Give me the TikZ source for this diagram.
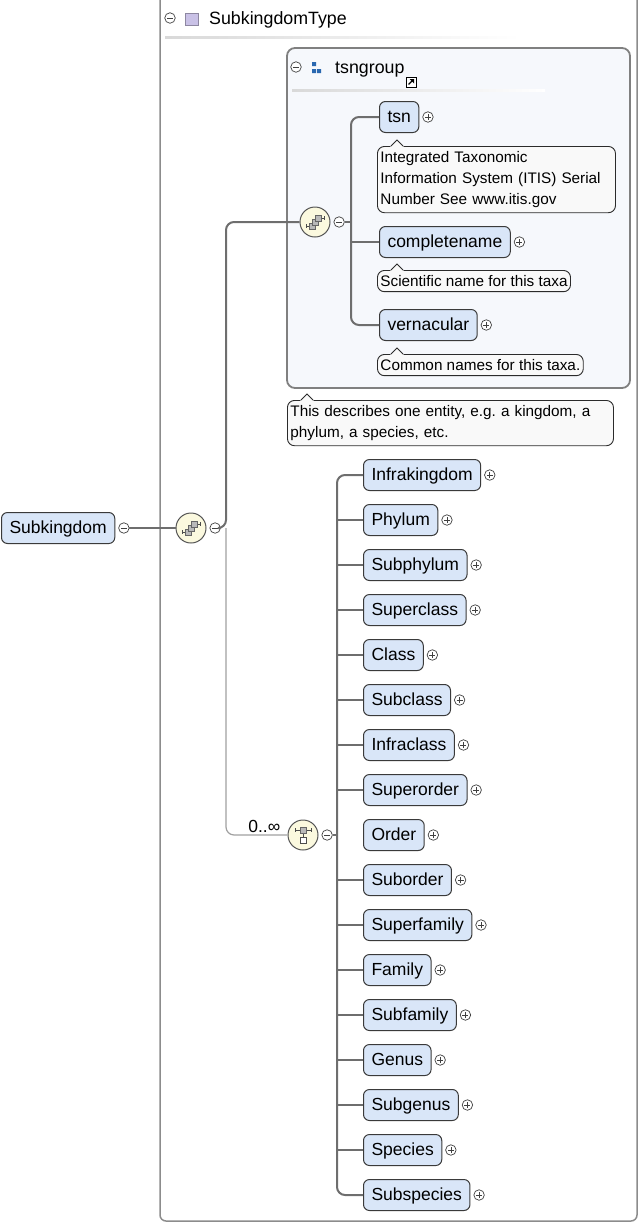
\documentclass[tikz,border=0pt]{standalone}
\usepackage{fontspec}
\setmainfont{Liberation Sans}
\frenchspacing

\definecolor{elfill}{HTML}{D9E6F8}
\definecolor{elline}{HTML}{3A3A3A}
\definecolor{compfill}{HTML}{FBF9DF}
\definecolor{compline}{HTML}{555555}
\definecolor{wirecol}{HTML}{6E6E6E}
\definecolor{optcol}{HTML}{A0A0A0}
\definecolor{typeline}{HTML}{8C8C8C}
\definecolor{grpfill}{HTML}{F6F8FC}
\definecolor{grpline}{HTML}{808080}
\definecolor{notebg}{HTML}{F9F9F9}
\definecolor{noteline}{HTML}{2B2B2B}
\definecolor{grpblue}{HTML}{2A68B0}
\definecolor{typeicon}{HTML}{C9C1E6}

\newcommand\elfont{\fontsize{17.5}{20}\selectfont}
\newcommand\notefont{\fontsize{15.3}{21}\selectfont}
\newcommand\titlefont{\fontsize{17.8}{20}\selectfont}

% small tip on top of a note box
\newcommand\notetip[1]{%
  \fill[notebg] ([xshift=13pt,yshift=-1pt]#1.north west) -- ([xshift=20pt,yshift=6pt]#1.north west) -- ([xshift=27pt,yshift=-1pt]#1.north west) -- cycle;
  \draw[noteline,line width=0.9pt] ([xshift=14pt]#1.north west) -- ([xshift=20pt,yshift=6pt]#1.north west) -- ([xshift=26pt]#1.north west);}

% compositor icons
\newcommand\seqicon[1]{%
  \begin{scope}[shift={(#1)}]
  \draw[line width=0.8pt,black!70] (-9,4) -- (-5,4) (5,-4) -- (9,-4) (-9,2) -- (-9,6) (9,-6) -- (9,-2);
  \filldraw[fill=gray!55,draw=black!60,line width=0.6pt] (-6,1) rectangle (0,7);
  \filldraw[fill=gray!55,draw=black!60,line width=0.6pt] (-3,-3) rectangle (3,3);
  \filldraw[fill=gray!55,draw=black!60,line width=0.6pt] (0,-7) rectangle (6,-1);
  \end{scope}}
\newcommand\choiceicon[1]{%
  \begin{scope}[shift={(#1)}]
  \draw[line width=0.8pt,black!70] (-8,-5) -- (8,-5) (-8,-7) -- (-8,-3) (8,-7) -- (8,-3) (0,-5) -- (0,2);
  \filldraw[fill=gray!55,draw=black!60,line width=0.6pt] (-3,-8) rectangle (3,-2);
  \filldraw[fill=white,draw=black!70,line width=0.6pt] (-3,2) rectangle (3,8);
  \end{scope}}

\begin{document}
\begin{tikzpicture}[x=1pt,y=-1pt,label distance=3pt,
  plus/.style={circle,draw=black!75,fill=white,line width=0.7pt,inner sep=0pt,minimum size=10.5pt,
    path picture={\draw[line width=0.7pt] ([xshift=-3pt]path picture bounding box.center) -- ([xshift=3pt]path picture bounding box.center)
      ([yshift=-3pt]path picture bounding box.center) -- ([yshift=3pt]path picture bounding box.center);}},
  minus/.style={circle,draw=black!75,fill=white,line width=0.7pt,inner sep=0pt,minimum size=10.5pt,
    path picture={\draw[line width=0.7pt] ([xshift=-3pt]path picture bounding box.center) -- ([xshift=3pt]path picture bounding box.center);}},
  el/.style={draw=elline,fill=elfill,rounded corners=6pt,line width=1pt,minimum height=31pt,
    inner xsep=8pt,text height=13pt,text depth=2pt,font=\elfont,anchor=west},
  elp/.style={el,label={[plus]right:{}}},
  comp/.style={circle,draw=compline,fill=compfill,line width=1pt,minimum size=30pt,inner sep=0pt},
  note/.style={draw=noteline,fill=notebg,rounded corners=7pt,line width=0.9pt,anchor=north west,
    align=left,font=\notefont,inner xsep=3pt,inner ysep=5pt},
  wire/.style={draw=wirecol,line width=2pt},
  optwire/.style={draw=optcol,line width=1.2pt}]

\useasboundingbox (0,0) rectangle (640,1224);

% type box
\draw[typeline,line width=1.5pt,rounded corners=6pt] (160,-10) rectangle (637,1221);
\node[minus] (typem) at (170,18) {};
\filldraw[fill=typeicon,draw=typeicon!70!black,line width=0.6pt] (185,13) rectangle (198,25);
\node[anchor=base west,inner sep=0pt,font=\titlefont] (typetitle) at (209,24.5) {SubkingdomType};
\shade[left color=gray!30,middle color=gray!75,right color=white] (165,36) rectangle (520,38.5);

% group box
\filldraw[fill=grpfill,draw=grpline,line width=1.8pt,rounded corners=8pt] (287,48) rectangle (630,388);
\node[minus] (grpm) at (296,67) {};
\fill[grpblue] (312,62) rectangle (316,66) (312,69) rectangle (316,73) (317,69) rectangle (321,73);
\node[anchor=base west,inner sep=0pt,font=\titlefont] (grptitle) at (335,73) {tsngroup};
\filldraw[fill=white,draw=black,line width=0.8pt] (406,77) rectangle (416,87);
\draw[line width=1.3pt] (408.5,84.5) -- (412.5,80.5);
\fill (414,79) -- (409.5,79) -- (414,83.5) -- cycle;
\shade[left color=gray!30,middle color=gray!75,right color=white] (292,89) rectangle (545,91.5);

% elements
\node[el,label={[minus,name=subkingdomm]right:{}}] (subkingdom) at (1,528) {Subkingdom};
\node[comp,label={[minus,name=seqm]right:{}}] (seq) at (191,528) {};
\node[comp,label={[minus,name=tsnseqm]right:{}}] (tsnseq) at (315,222) {};
\node[comp,label={[minus,name=choicem]right:{}}] (choice) at (303,835) {};
\seqicon{seq.center}
\seqicon{tsnseq.center}
\choiceicon{choice.center}
\node[anchor=base east,inner sep=0pt,font=\elfont] (occurs) at ([xshift=-7pt,yshift=3pt]choice.west) {0..∞};

\node[elp] (tsn) at (379,117) {tsn};
\node[elp] (completename) at (379,242) {completename};
\node[elp] (vernacular) at (379,325) {vernacular};

\node[note,text width=232pt] (tsnnote) at (377,146) {Integrated Taxonomic\\Information System (ITIS) Serial\\Number See www.itis.gov};
\notetip{tsnnote}
\node[note] (cnnote) at (377,270) {Scientific name for this taxa};
\notetip{cnnote}
\node[note] (vnnote) at (377,354) {Common names for this taxa.};
\notetip{vnnote}
\node[note,text width=320pt] (grpnote) at (287,400) {This describes one entity, e.g. a kingdom, a\\phylum, a species, etc.};
\notetip{grpnote}

\node[elp] (infrakingdom) at (363,475) {Infrakingdom};
\node[elp] (phylum) at (363,520) {Phylum};
\node[elp] (subphylum) at (363,565) {Subphylum};
\node[elp] (superclass) at (363,610) {Superclass};
\node[elp] (class) at (363,655) {Class};
\node[elp] (subclass) at (363,700) {Subclass};
\node[elp] (infraclass) at (363,745) {Infraclass};
\node[elp] (superorder) at (363,790) {Superorder};
\node[elp] (order) at (363,835) {Order};
\node[elp] (suborder) at (363,880) {Suborder};
\node[elp] (superfamily) at (363,925) {Superfamily};
\node[elp] (family) at (363,970) {Family};
\node[elp] (subfamily) at (363,1015) {Subfamily};
\node[elp] (genus) at (363,1060) {Genus};
\node[elp] (subgenus) at (363,1105) {Subgenus};
\node[elp] (species) at (363,1150) {Species};
\node[elp] (subspecies) at (363,1195) {Subspecies};

% connectors
\coordinate (trunk) at (226,528);
\coordinate (tsnbus) at (351,242);
\coordinate (bus) at (337,835);
\draw[wire] (subkingdomm) -- (seq);
\draw[wire,rounded corners=8pt] (seqm.east) -- (trunk) |- (tsnseq.west);
\draw[optwire,rounded corners=8pt] (trunk) |- (choice.west);
\draw[wire,rounded corners=8pt] (tsn.west) -| (tsnbus) |- (vernacular.west);
\draw[wire] (tsnseqm.east) -- (tsnseqm.east -| tsnbus);
\draw[wire] (completename.west) -- (completename.west -| tsnbus);
\draw[wire,rounded corners=8pt] (infrakingdom.west) -| (bus) |- (subspecies.west);
\draw[wire] (choicem.east) -- (bus);
\draw[wire] (phylum.west) -- (phylum.west -| bus);
\draw[wire] (subphylum.west) -- (subphylum.west -| bus);
\draw[wire] (superclass.west) -- (superclass.west -| bus);
\draw[wire] (class.west) -- (class.west -| bus);
\draw[wire] (subclass.west) -- (subclass.west -| bus);
\draw[wire] (infraclass.west) -- (infraclass.west -| bus);
\draw[wire] (superorder.west) -- (superorder.west -| bus);
\draw[wire] (suborder.west) -- (suborder.west -| bus);
\draw[wire] (superfamily.west) -- (superfamily.west -| bus);
\draw[wire] (family.west) -- (family.west -| bus);
\draw[wire] (subfamily.west) -- (subfamily.west -| bus);
\draw[wire] (genus.west) -- (genus.west -| bus);
\draw[wire] (subgenus.west) -- (subgenus.west -| bus);
\draw[wire] (species.west) -- (species.west -| bus);

\end{tikzpicture}
\end{document}
